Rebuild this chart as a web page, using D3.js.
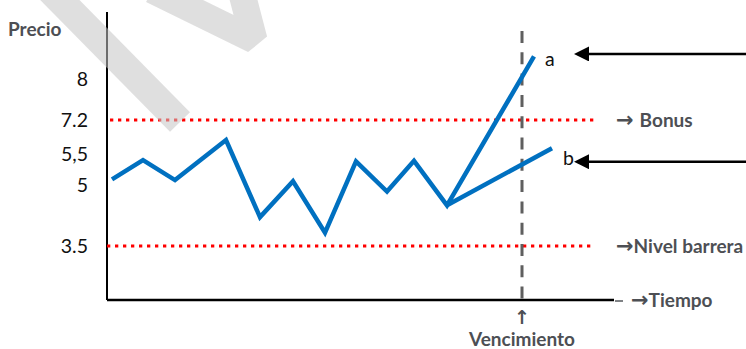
<!DOCTYPE html>
<html>
<head>
<meta charset="utf-8">
<script src="https://cdn.jsdelivr.net/npm/d3@7"></script>
<style>
  body { margin: 0; background: #fff; }
  text { font-family: Lato, "DejaVu Sans", sans-serif; }
  .lbl { font-weight: bold; fill: #4d4f54; font-size: 19px; }
  .arr { font-family: "DejaVu Sans", sans-serif; font-weight: bold; }
  .tick { font-size: 19.5px; fill: #111; }
</style>
</head>
<body>
<script>
// data
var tickValues = [3.5, 5, 5.5, 7.2, 8];
var tickLabels = ["3.5", "5", "5,5", "7.2", "8"];
var times  = [5, 36, 68, 119, 153, 186, 218, 249, 280, 307, 340];
var prices = [5.09, 5.4, 5.08, 6.2, 4.21, 5.06, 3.83, 5.38, 4.84, 5.39, 4.5];
var branchA = {t: 427, v: 8.44};
var branchB = {t: 445, v: 5.79};
var bonus = 7.2, barrera = 3.5, vencimiento = 415, tMax = 507;

var w = 746, h = 349;

var svg = d3.select("body").append("svg")
    .attr("width", w)
    .attr("height", h);

// schematic chart: price axis isn't linear, so piecewise scale
var x = d3.scaleLinear().domain([0, tMax]).range([107, 614]);
var y = d3.scaleLinear().domain(tickValues).range([246, 185, 154, 120, 79]);

// axes
svg.append("line")
    .attr("x1", x(0)).attr("x2", x(0))
    .attr("y1", 12).attr("y2", 300)
    .attr("stroke", "#000").attr("stroke-width", 2);
svg.append("line")
    .attr("x1", x(0)).attr("x2", x(tMax))
    .attr("y1", 300).attr("y2", 300)
    .attr("stroke", "#000").attr("stroke-width", 2.5);
svg.append("line")
    .attr("x1", x(tMax) + 1).attr("x2", x(tMax) + 9)
    .attr("y1", 301).attr("y2", 301)
    .attr("stroke", "#55585c").attr("stroke-width", 1.5);

// tick labels
svg.selectAll("text.tick")
    .data(tickValues)
    .enter().append("text")
    .attr("class", "tick")
    .attr("x", 88)
    .attr("y", function(d) { return y(d); })
    .attr("dy", "0.36em")
    .attr("text-anchor", "end")
    .text(function(d, i) { return tickLabels[i]; });

svg.append("text").attr("class", "lbl")
    .attr("x", 8).attr("y", 36).attr("font-size", 17)
    .text("Precio");

// bonus / barrier levels
svg.append("line")
    .attr("x1", 110).attr("x2", 595)
    .attr("y1", y(bonus)).attr("y2", y(bonus))
    .attr("stroke", "#ff0000").attr("stroke-width", 3.2)
    .attr("stroke-dasharray", "3.3,4.7");
svg.append("line")
    .attr("x1", 107).attr("x2", 591)
    .attr("y1", y(barrera)).attr("y2", y(barrera))
    .attr("stroke", "#ff0000").attr("stroke-width", 3.2)
    .attr("stroke-dasharray", "3.3,4.7");

// maturity line
svg.append("line")
    .attr("x1", x(vencimiento)).attr("x2", x(vencimiento))
    .attr("y1", 31).attr("y2", 299)
    .attr("stroke", "#5f5f5f").attr("stroke-width", 3)
    .attr("stroke-dasharray", "12,9.3");

// price path
var pts = times.map(function(t, i) { return {t: t, v: prices[i]}; });
var last = pts[pts.length - 1];
var line = d3.line()
    .x(function(d) { return x(d.t); })
    .y(function(d) { return y(d.v); });

svg.append("path")
    .datum(pts.concat([branchA]))
    .attr("d", line)
    .attr("fill", "none").attr("stroke", "#0070c0")
    .attr("stroke-width", 4.5).attr("stroke-linejoin", "miter");
svg.append("path")
    .datum([last, branchB])
    .attr("d", line)
    .attr("fill", "none").attr("stroke", "#0070c0")
    .attr("stroke-width", 4.5);

// a / b labels and pointer arrows
svg.append("text").attr("class", "tick")
    .attr("x", x(branchA.t) + 11).attr("y", y(branchA.v) + 10)
    .attr("font-size", 18).text("a");
svg.append("text").attr("class", "tick")
    .attr("x", x(branchB.t) + 11).attr("y", y(branchB.v) + 17)
    .attr("font-size", 18).text("b");

svg.append("defs").append("marker")
    .attr("id", "head")
    .attr("viewBox", "0 0 10 10")
    .attr("refX", 0).attr("refY", 5)
    .attr("markerWidth", 6.5).attr("markerHeight", 6)
    .attr("markerUnits", "strokeWidth")
    .attr("orient", "auto-start-reverse")
    .append("path").attr("d", "M0,0L10,5L0,10z").attr("fill", "#000");

[[y(branchA.v) - 2.5], [y(branchB.v) + 13.5]].forEach(function(p) {
  svg.append("line")
      .attr("x1", 589).attr("x2", 750)
      .attr("y1", p[0]).attr("y2", p[0])
      .attr("stroke", "#000").attr("stroke-width", 2.5)
      .attr("marker-start", "url(#head)");
});

// right side labels
function arrowLabel(tx, ty, gap, txt) {
  var t = svg.append("text").attr("class", "lbl")
      .attr("x", tx).attr("y", ty).attr("dy", "0.36em");
  t.append("tspan").attr("class", "arr").attr("font-size", 21).text("\u2192");
  t.append("tspan").attr("dx", gap).text(txt);
}
arrowLabel(616, y(bonus), 6, "Bonus");
arrowLabel(616, y(barrera), 0, "Nivel barrera");
arrowLabel(631, 300, 0, "Tiempo");

svg.append("text").attr("class", "lbl arr")
    .attr("x", x(vencimiento)).attr("y", 324)
    .attr("font-size", 20)
    .attr("text-anchor", "middle")
    .text("\u2191");
svg.append("text").attr("class", "lbl")
    .attr("x", x(vencimiento)).attr("y", 346)
    .attr("text-anchor", "middle")
    .text("Vencimiento");

// watermark strokes on top
var wm = d3.line();
svg.append("path")
    .attr("d", wm([[50, -10], [180, 122]]))
    .attr("fill", "none").attr("stroke", "#c4c4c4").attr("stroke-opacity", 0.55)
    .attr("stroke-width", 28);
svg.append("path")
    .attr("d", wm([[152, -10], [254, 40], [241, -10]]))
    .attr("fill", "none").attr("stroke", "#c4c4c4").attr("stroke-opacity", 0.55)
    .attr("stroke-width", 27).attr("stroke-linejoin", "bevel");
</script>
</body>
</html>
